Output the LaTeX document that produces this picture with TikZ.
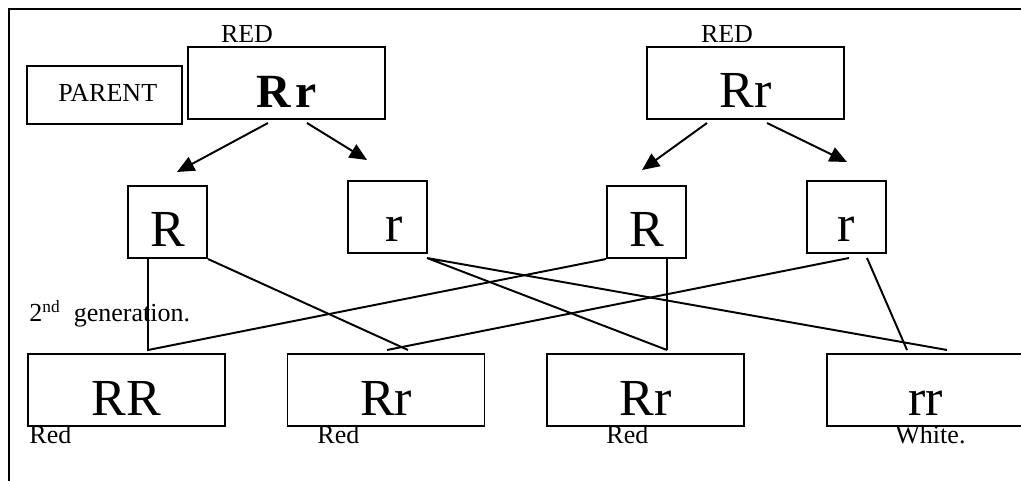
\documentclass[tikz,border=0pt]{standalone}
\usepackage{fontspec}
\setmainfont{Liberation Serif}
\usetikzlibrary{arrows.meta}

\tikzset{
    genebox/.style={draw, line width=0.9pt, inner sep=0pt, anchor=base,
        text height=28.2pt, text depth=5.1pt, font=\fontsize{24}{28}\selectfont},
    widebox/.style={genebox, minimum width=90.9pt},
    allelebox/.style={genebox, minimum width=36.5pt},
    tagtext/.style={inner sep=0pt, anchor=base west, font=\fontsize{12}{14}\selectfont},
    link/.style={line width=0.9pt},
    pointer/.style={line width=0.9pt, -{Triangle[length=8pt,width=7pt]}}
}

\begin{document}
\begin{tikzpicture}[x=0.4615pt, y=-0.4615pt]
            \useasboundingbox (0,0) rectangle (1021,481);
            \draw[link] (9,481) -- (9,9) -- (1025,9);
            % parents
            \node[draw, line width=0.9pt, inner sep=0pt, anchor=base, minimum width=71.5pt,
                text height=16.6pt, text depth=10.2pt, font=\fontsize{12}{14}\selectfont]
                (parent) at (104.5,102) {\ PARENT};
            \node[widebox, font=\fontsize{22}{26}\selectfont\bfseries] (p1) at (286.5,108) {R\kern2.5pt r};
            \node[widebox] (p2) at (745.5,108) {Rr};
            \node[tagtext, anchor=base] (red1) at (247,43) {RED};
            \node[tagtext, anchor=base] (red2) at (727,43) {RED};
            % gametes
            \node[allelebox] (a1) at (167.5,247) {R};
            \node[allelebox] (a2) at (387.5,242) {\ r};
            \node[allelebox] (a3) at (646.5,247) {R};
            \node[allelebox] (a4) at (846.5,242) {r};
            % 2nd generation
            \node[tagtext] (gen) at (29,322) {2\textsuperscript{nd}\ \ generation.};
            \node[widebox] (c1) at (126.5,415) {RR};
            \node[widebox] (c2) at (386,415) {Rr};
            \node[widebox] (c3) at (645.5,415) {Rr};
            \node[widebox] (c4) at (925.5,415) {rr};
            \node[tagtext] (col1) at (29,443) {Red};
            \node[tagtext] (col2) at (317,443) {Red};
            \node[tagtext] (col3) at (606,443) {Red};
            \node[tagtext] (col4) at (895,443) {White.};
            % arrow ends
            \coordinate (p1l) at (268,123);
            \coordinate (p1r) at (307,123);
            \coordinate (p2l) at (707,123);
            \coordinate (p2r) at (767,123);
            \coordinate (a1t) at (177,172);
            \coordinate (a2t) at (367,160);
            \coordinate (a3t) at (642,170);
            \coordinate (a4t) at (847,162);
            \draw[pointer] (p1l) -- (a1t);
            \draw[pointer] (p1r) -- (a2t);
            \draw[pointer] (p2l) -- (a3t);
            \draw[pointer] (p2r) -- (a4t);
            % crossing lines
            \coordinate (a1b) at (148,258);
            \coordinate (a2b) at (427,258);
            \coordinate (a3b) at (667,258);
            \coordinate (a4b) at (849,258);
            \coordinate (a4c) at (867,258);
            \coordinate (j1) at (148,350);
            \coordinate (j2) at (408,350);
            \coordinate (j3) at (387,350);
            \coordinate (j4) at (667,350);
            \coordinate (j5) at (947,350);
            \coordinate (j6) at (907,350);
            \draw[link] (a1b) -- (j1) -- (a3.south west);
            \draw[link] (a1.south east) -- (j2);
            \draw[link] (a4b) -- (j3);
            \draw[link] (j4) -- (a2b) -- (j5);
            \draw[link] (a3b) -- (j4);
            \draw[link] (a4c) -- (j6);
        \end{tikzpicture}
\end{document}
